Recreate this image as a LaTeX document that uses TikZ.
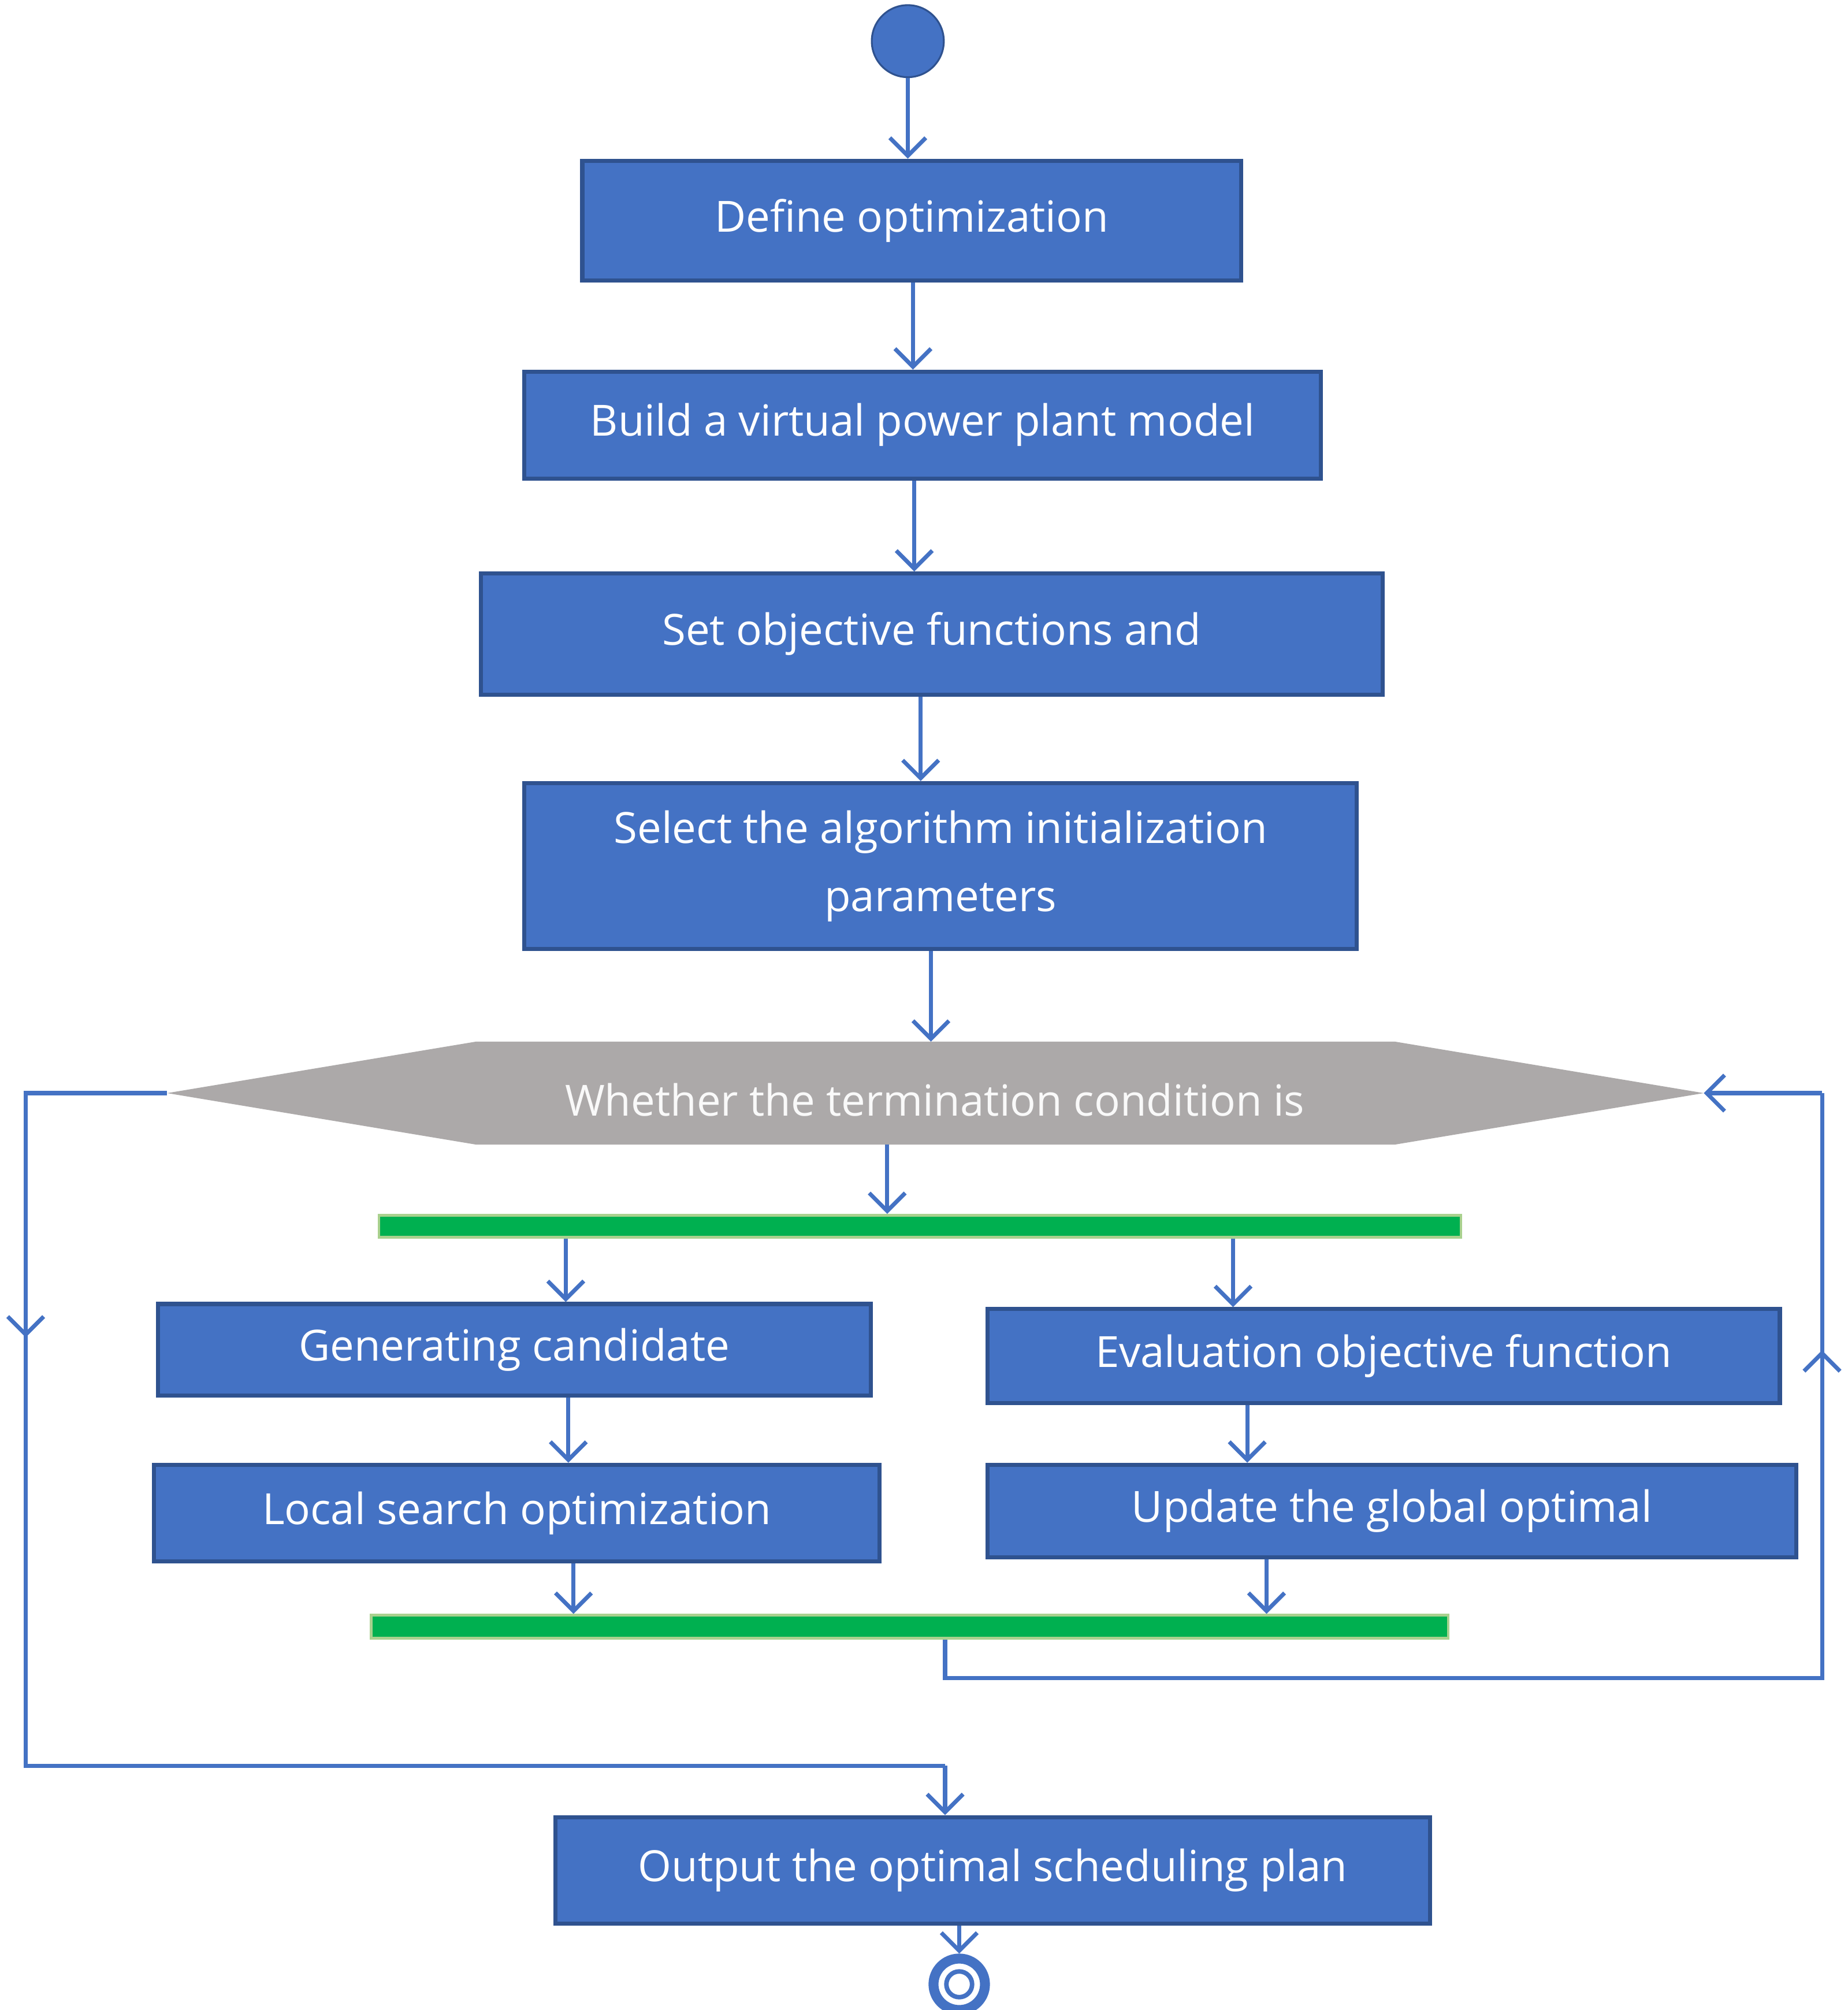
\documentclass[tikz,border=0pt]{standalone}
\usepackage{fontspec}
\setmainfont{Open Sans}
\usetikzlibrary{arrows.meta}
\definecolor{bfill}{HTML}{4472C4}
\definecolor{bdraw}{HTML}{2F528F}
\definecolor{hgray}{HTML}{ACA9A9}
\definecolor{gbar}{HTML}{00B050}
\definecolor{gedge}{HTML}{A9D18E}
\begin{document}
\begin{tikzpicture}[x=0.01cm,y=-0.01cm,
  box/.style={draw=bdraw,line width=0.9pt,fill=bfill,text=white,inner sep=0pt,align=center,font=\fontsize{9.5}{15}\selectfont},
  bar/.style={draw=gedge,line width=0.6pt,fill=gbar,inner sep=0pt},
  arr/.style={draw=bfill,line width=0.9pt,-{Straight Barb[length=1.4mm,width=2.8mm]}},
  ln/.style={draw=bfill,line width=0.9pt}]
\useasboundingbox (0,0) rectangle (1437,1563);
\node[circle,fill=bfill,draw=bdraw,minimum size=0.56cm,inner sep=0pt] (start) at (706,32) {};
\node[box,minimum width=5.12cm,minimum height=0.93cm] (b1) at (709,171.5) {Define optimization};
\node[box,minimum width=6.19cm,minimum height=0.83cm] (b2) at (717.5,330.5) {Build a virtual power plant model};
\node[box,minimum width=7.01cm,minimum height=0.94cm] (b3) at (724.5,493) {Set objective functions and};
\node[box,minimum width=6.47cm,minimum height=1.29cm] (b4) at (731.5,673.5) {Select the algorithm initialization\\parameters};
\fill[hgray] (130,850) -- (370,810) -- (1085,810) -- (1325,850) -- (1085,890) -- (370,890) -- cycle;
\node[text=white!95!gray,font=\fontsize{9.5}{12}\selectfont,inner sep=0pt] (hex) at (727,855) {Whether the termination condition is};
\coordinate (hexL) at (130,850);
\coordinate (hexR) at (1325,850);
\coordinate (hexB) at (690,890);
\node[bar,minimum width=8.41cm,minimum height=0.17cm] (bar1) at (715.5,953.5) {};
\node[box,minimum width=5.54cm,minimum height=0.71cm] (gen) at (400,1049.5) {Generating candidate};
\node[box,minimum width=6.16cm,minimum height=0.73cm] (eval) at (1076,1054.5) {Evaluation objective function};
\node[box,minimum width=5.64cm,minimum height=0.75cm] (loc) at (402,1176.5) {Local search optimization};
\node[box,minimum width=6.29cm,minimum height=0.72cm] (upd) at (1082.5,1175) {Update the global optimal};
\node[bar,minimum width=8.37cm,minimum height=0.18cm] (bar2) at (707.5,1265) {};
\node[box,minimum width=6.80cm,minimum height=0.83cm] (out) at (772,1454.5) {Output the optimal scheduling plan};
\node[circle,draw=bfill,line width=2.2pt,fill=white,minimum size=0.4cm,inner sep=0pt] (end) at (746,1543) {};
\node[circle,draw=bfill,line width=1pt,minimum size=0.2cm,inner sep=0pt] (endin) at (746,1543) {};

\draw[arr] (start.south) -- (start.south |- b1.north);
\draw[arr] (b1.south -| 710,0) -- (b2.north -| 710,0);
\draw[arr] (b2.south -| 711,0) -- (b3.north -| 711,0);
\draw[arr] (b3.south -| 716,0) -- (b4.north -| 716,0);
\draw[arr] (b4.south -| 724,0) -- (724,810);
\draw[arr] (hexB) -- (bar1.north -| hexB);
\draw[arr] (bar1.south -| 440,0) -- (gen.north -| 440,0);
\draw[arr] (bar1.south -| 959,0) -- (eval.north -| 959,0);
\draw[arr] (gen.south -| 442,0) -- (loc.north -| 442,0);
\draw[arr] (eval.south -| 970,0) -- (upd.north -| 970,0);
\draw[arr] (loc.south -| 446,0) -- (bar2.north -| 446,0);
\draw[arr] (upd.south -| 985,0) -- (bar2.north -| 985,0);
% right loop
\draw[ln] (bar2.south -| 735,0) -- (735,1305) -- (1417,1305) -- (1417,1060);
\draw[arr] (1417,1100) -- (1417,1050);
\draw[ln] (1417,1060) -- (1417,850);
\draw[arr] (1417,850) -- (hexR);
% left loop
\draw[ln] (hexL) -- (20,850) -- (20,1030);
\draw[arr] (20,1000) -- (20,1040);
\draw[ln] (20,1030) -- (20,1373) -- (735,1373);
\draw[arr] (735,1373) -- (out.north -| 735,0);
\draw[arr] (out.south -| end) -- (end.north);
\end{tikzpicture}
\end{document}
